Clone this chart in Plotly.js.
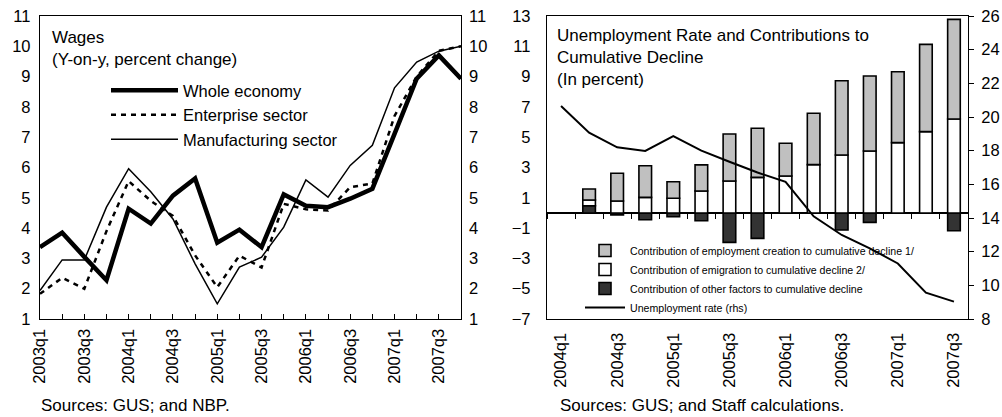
<!DOCTYPE html>
<html><head><meta charset="utf-8">
<script src="https://cdn.plot.ly/plotly-3.0.1.min.js"></script>
<style>html,body{margin:0;padding:0;background:#fff}#chart{width:1002px;height:417px}</style>
</head><body><div id="chart"></div>
<script>
// ---- Left panel: Wages (y-on-y, percent change)
const wageQuarters = ['2003q1','2003q2','2003q3','2003q4','2004q1','2004q2','2004q3','2004q4',
  '2005q1','2005q2','2005q3','2005q4','2006q1','2006q2','2006q3','2006q4','2007q1','2007q2','2007q3','2007q4'];
const wholeEconomy = [3.37,3.85,3.05,2.28,4.64,4.15,5.07,5.64,3.52,3.95,3.37,5.11,4.74,4.69,4.97,5.30,7.11,8.93,9.70,8.93];
const enterpriseSector = [1.83,2.36,2.00,3.90,5.55,4.90,4.40,3.10,2.05,3.09,2.70,4.80,4.62,4.58,5.35,5.47,7.70,9.00,9.85,10.00];
const manufacturingSector = [1.94,2.95,2.95,4.69,5.96,5.20,4.30,2.82,1.50,2.71,3.04,4.03,5.59,5.02,6.07,6.73,8.63,9.48,9.84,10.00];
const wageTickLabels = ['2003q1','2003q3','2004q1','2004q3','2005q1','2005q3','2006q1','2006q3','2007q1','2007q3'];

// ---- Right panel: Unemployment rate and contributions
const unempQuarters = ['2004q1','2004q2','2004q3','2004q4','2005q1','2005q2','2005q3','2005q4',
  '2006q1','2006q2','2006q3','2006q4','2007q1','2007q2','2007q3'];
const employmentCreation = [null,0.73,1.83,2.09,1.09,1.72,3.10,3.24,2.16,3.39,4.90,4.95,4.68,5.76,6.58];
const emigration = [null,0.37,0.79,1.03,0.97,1.45,2.11,2.35,2.44,3.19,3.83,4.09,4.64,5.37,6.20];
const otherFactors = [null,0.48,-0.13,-0.45,-0.25,-0.51,-1.94,-1.68,0,0,-1.13,-0.62,0,0,-1.17];
const unemploymentRate = [20.65,19.07,18.20,17.98,18.87,18.00,17.34,16.70,16.15,14.10,12.99,12.20,11.30,9.56,9.03];
const unempTickLabels = ['2004q1','2004q3','2005q1','2005q3','2006q1','2006q3','2007q1','2007q3'];

const FONT = 'Liberation Sans, Arial, sans-serif';
const W = 1002, H = 417;
const domL = [40/W, 461/W];
const domR = [547/W, 968/W];
const domY = [98/H, 401/H];
const leftRange = [-7, 13];
const zeroPos = domY[0] + (0 - leftRange[0])/(leftRange[1]-leftRange[0])*(domY[1]-domY[0]);

// left panel uses the quarter index on a linear axis so that every quarter gets a tick
const wageIdx = wageQuarters.map((q, i) => i);

const traces = [
  {x: wageIdx, y: wholeEconomy, text: wageQuarters, name: 'Whole economy', type: 'scatter', mode: 'lines',
   xaxis: 'x', yaxis: 'y', legend: 'legend', line: {color: '#000', width: 4.5}},
  {x: wageIdx, y: enterpriseSector, text: wageQuarters, name: 'Enterprise sector', type: 'scatter', mode: 'lines',
   xaxis: 'x', yaxis: 'y', legend: 'legend', line: {color: '#000', width: 2.5, dash: '5px,5px'}},
  {x: wageIdx, y: manufacturingSector, text: wageQuarters, name: 'Manufacturing sector', type: 'scatter', mode: 'lines',
   xaxis: 'x', yaxis: 'y2', legend: 'legend', line: {color: '#000', width: 1.5}},
  {x: unempQuarters, y: otherFactors, name: 'Contribution of other factors to cumulative decline', type: 'bar',
   xaxis: 'x3', yaxis: 'y3', legend: 'legend2', legendrank: 3,
   marker: {color: '#333333', line: {color: '#000', width: 1.6}}},
  {x: unempQuarters, y: emigration, name: 'Contribution of emigration to cumulative decline 2/', type: 'bar',
   xaxis: 'x3', yaxis: 'y3', legend: 'legend2', legendrank: 2,
   marker: {color: '#ffffff', line: {color: '#000', width: 1.6}}},
  {x: unempQuarters, y: employmentCreation, name: 'Contribution of employment creation to cumulative decline 1/', type: 'bar',
   xaxis: 'x3', yaxis: 'y3', legend: 'legend2', legendrank: 1,
   marker: {color: '#c0c0c0', line: {color: '#000', width: 1.6}}},
  {x: unempQuarters, y: unemploymentRate, name: 'Unemployment rate (rhs)', type: 'scatter', mode: 'lines',
   xaxis: 'x4', yaxis: 'y4', legend: 'legend2', legendrank: 4,
   line: {color: '#000', width: 2}}
];

const tickFont = {family: FONT, size: 16.5, color: '#000'};
const layout = {
  width: W, height: H,
  margin: {l: 0, r: 0, t: 0, b: 0},
  paper_bgcolor: '#fff', plot_bgcolor: 'rgba(0,0,0,0)',
  font: {family: FONT, color: '#000'},
  barmode: 'relative', bargap: 0.55,
  xaxis: {domain: domL, anchor: 'y', type: 'linear', range: [0, wageQuarters.length-1],
    tickmode: 'array', tickvals: wageTickLabels.map(l => wageQuarters.indexOf(l)), ticktext: wageTickLabels,
    tickangle: -90, tickfont: tickFont, ticks: 'inside', ticklen: 5, tickwidth: 1, tickcolor: '#000',
    minor: {tickmode: 'linear', tick0: 0, dtick: 1, ticks: 'inside', ticklen: 5, tickwidth: 1, tickcolor: '#000', showgrid: false},
    showline: true, linecolor: '#000', linewidth: 1.2, mirror: true, showgrid: false, zeroline: false,
    ticklabelstandoff: 2},
  yaxis: {domain: domY, anchor: 'x', range: [1, 11], dtick: 1, tickfont: tickFont, ticks: '',
    showline: true, linecolor: '#000', linewidth: 1.2, mirror: true, showgrid: false, zeroline: false,
    ticklabelstandoff: 5},
  yaxis2: {domain: domY, anchor: 'x', overlaying: 'y', side: 'right', range: [1, 11], dtick: 1,
    tickfont: tickFont, ticks: '', showgrid: false, zeroline: false, ticklabelstandoff: 7},
  xaxis3: {domain: domR, anchor: 'y3', type: 'category', range: [-0.5, unempQuarters.length-0.5],
    tickvals: unempTickLabels, ticktext: unempTickLabels, tickangle: -90, tickfont: tickFont,
    ticks: '', showline: true, linecolor: '#000', linewidth: 1.2, mirror: true, showgrid: false,
    ticklabelstandoff: 6},
  xaxis4: {domain: domR, anchor: 'free', position: zeroPos, overlaying: 'x3', type: 'category',
    range: [-0.5, unempQuarters.length-0.5], tickson: 'boundaries',
    showticklabels: false, ticks: 'outside', ticklen: 5, tickwidth: 1, tickcolor: '#000', showline: false,
    showgrid: false, zeroline: false},
  yaxis3: {domain: domY, anchor: 'x3', range: leftRange, tick0: 1, dtick: 2, tickfont: tickFont, ticks: '',
    showline: true, linecolor: '#000', linewidth: 1.2, mirror: true, showgrid: false,
    zeroline: true, zerolinecolor: '#000', zerolinewidth: 1.2, ticklabelstandoff: 12},
  yaxis4: {domain: domY, anchor: 'x3', overlaying: 'y3', side: 'right', range: [8, 26], dtick: 2,
    tickfont: tickFont, ticks: 'outside', ticklen: 5, tickcolor: '#000', showgrid: false, zeroline: false,
    ticklabelstandoff: 4},
  legend: {x: 106/W, y: (H-73)/H, xanchor: 'left', yanchor: 'top', bgcolor: 'rgba(0,0,0,0)',
    font: {family: FONT, size: 16.5, color: '#000'}, itemwidth: 67, tracegroupgap: 0},
  legend2: {x: 580/W, y: (H-236)/H, xanchor: 'left', yanchor: 'top', bgcolor: 'rgba(0,0,0,0)',
    font: {family: FONT, size: 10.6, color: '#000'}, itemwidth: 40, tracegroupgap: 0},
  showlegend: true,
  annotations: [
    {text: 'Wages<br>(Y-on-y, percent change)', xref: 'paper', yref: 'paper', x: 50/W, y: (H-26)/H,
     xanchor: 'left', yanchor: 'top', align: 'left', showarrow: false,
     font: {family: FONT, size: 17, color: '#000'}},
    {text: 'Unemployment Rate and Contributions to<br>Cumulative Decline<br>(In percent)', xref: 'paper', yref: 'paper',
     x: 555/W, y: (H-24)/H, xanchor: 'left', yanchor: 'top', align: 'left', showarrow: false,
     font: {family: FONT, size: 17, color: '#000'}},
    {text: 'Sources: GUS; and NBP.', xref: 'paper', yref: 'paper', x: 39/W, y: 12/H,
     xanchor: 'left', yanchor: 'middle', showarrow: false, font: {family: FONT, size: 17, color: '#000'}},
    {text: 'Sources: GUS; and Staff calculations.', xref: 'paper', yref: 'paper', x: 558/W, y: 12/H,
     xanchor: 'left', yanchor: 'middle', showarrow: false, font: {family: FONT, size: 17, color: '#000'}}
  ]
};

Plotly.newPlot('chart', traces, layout, {displayModeBar: false, staticPlot: true});
</script>
</body></html>
